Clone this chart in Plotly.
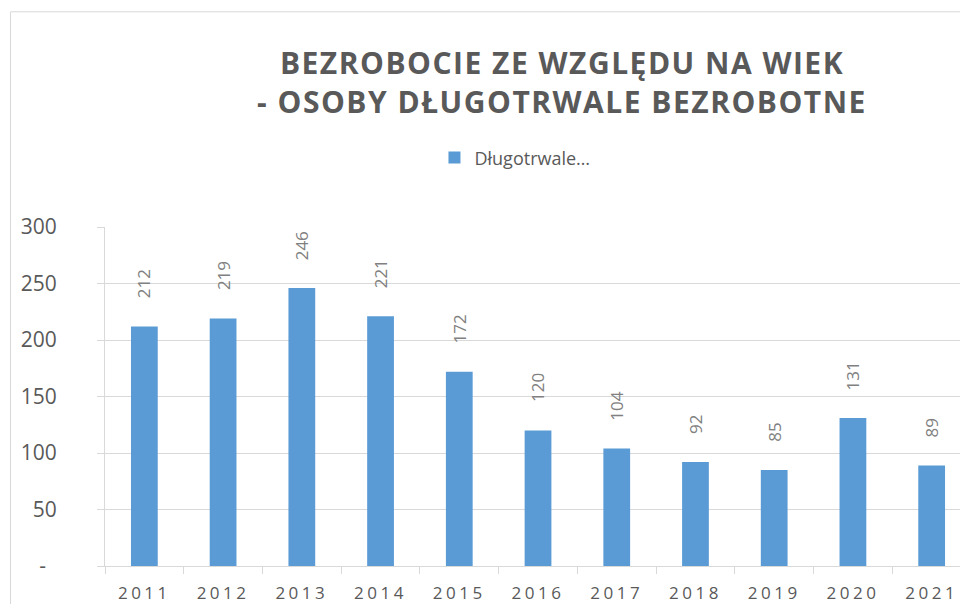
import plotly.graph_objects as go

years = ["2011", "2012", "2013", "2014", "2015", "2016", "2017", "2018", "2019", "2020", "2021"]
values = [212, 219, 246, 221, 172, 120, 104, 92, 85, 131, 89]
series_name = "Długotrwale…"
y_tickvals = [0, 50, 100, 150, 200, 250, 300]
y_ticktext = ["-\u00a0\u00a0", "50", "100", "150", "200", "250", "300"]
title_text = "BEZROBOCIE ZE WZGLĘDU NA WIEK<br>- OSOBY DŁUGOTRWALE BEZROBOTNE"

TEXT = "#595959"
LABEL = "#808080"
GRID = "#D9D9D9"
BAR = "#5B9BD5"

fig = go.Figure()
fig.add_trace(go.Bar(x=years, y=values, name=series_name, marker=dict(color=BAR, line=dict(width=0)),
                     showlegend=True))

for i, v in enumerate(values):
    fig.add_annotation(x=i, y=v, text=str(v), textangle=-90, showarrow=False,
                       xref="x", yref="y", yanchor="bottom", yshift=26,
                       font=dict(family="Open Sans", size=17, color=LABEL))

fig.update_layout(
    width=960, height=604,
    margin=dict(l=105, r=0, t=227, b=36),
    paper_bgcolor="white", plot_bgcolor="white",
    bargap=0.66,
    showlegend=True,
    title=dict(text=title_text, x=562 / 960, xanchor="center", y=1 - 74 / 604, yanchor="top",
               font=dict(family="Open Sans", size=30, color=TEXT, weight="bold")),
    legend=dict(orientation="h", x=0.4795, xanchor="center", y=(568 - 176) / 341, yanchor="bottom",
                font=dict(family="Open Sans", size=18, color=TEXT), itemwidth=30),
    xaxis=dict(type="category", range=[-0.5, 10.36], showgrid=False, showline=True, linecolor=GRID,
               linewidth=1, ticks="outside", tickson="boundaries", ticklen=7, tickcolor=GRID,
               ticklabelstandoff=12,
               tickfont=dict(family="Open Sans", size=17, color=TEXT), fixedrange=True),
    yaxis=dict(range=[0, 300], tickvals=y_tickvals, ticktext=y_ticktext, showgrid=True, gridcolor=GRID,
               gridwidth=1, showline=True, linecolor=GRID, ticks="outside", ticklen=7, tickcolor=GRID,
               ticklabelstandoff=36,
               tickfont=dict(family="Open Sans", size=21, color=TEXT), zeroline=False, fixedrange=True),
    shapes=[dict(type="rect", xref="paper", yref="paper", x0=(10.5 - 105) / 855, x1=1.2,
                 y0=-0.3, y1=(568 - 10.5) / 341, line=dict(color=GRID, width=1), layer="below")],
)

post_js = """
document.body.style.margin = '0';
document.body.style.overflow = 'hidden';
var gd = document.getElementById('{plot_id}');
gd.querySelectorAll('.gtitle').forEach(function (e) { e.style.letterSpacing = '1.5px'; });
gd.querySelectorAll('.xtick text').forEach(function (e) { e.style.letterSpacing = '3.5px'; });
"""

fig.write_html("out.html", config={"displayModeBar": False}, post_script=post_js)
